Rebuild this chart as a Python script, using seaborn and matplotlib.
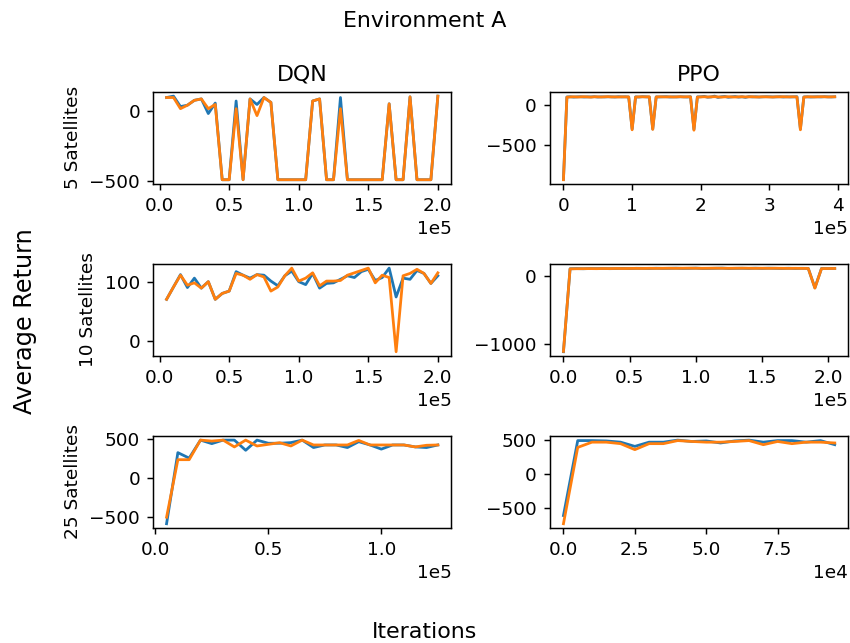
import matplotlib
matplotlib.use("Agg")
import matplotlib.pyplot as plt
import seaborn as sns

# ---------------- data ----------------
# DQN, 5 satellites (x = 5000 .. 200000, step 5000)
dqn5_x = [5000 * i for i in range(1, 41)]
dqn5_blue = [100, 110, 35, 45, 80, 90, -15, 60, -490, -490,
             75, -490, 90, 50, 100, 65, -490, -490, -490, -490,
             -490, 75, 90, -490, -490, 100, -490, -490, -490, -490,
             -490, -490, 55, -490, -490, 105, -490, -490, -490, 110]
dqn5_orange = [100, 100, 20, 45, 80, 90, 20, 50, -490, -490,
               20, -490, 90, -30, 100, 65, -490, -490, -490, -490,
               -490, 75, 90, -490, -490, 20, -490, -490, -490, -490,
               -490, -490, 55, -490, -490, 105, -490, -490, -490, 110]

# PPO, 5 satellites (x = 0 .. 395000, step 5000)
ppo5_x = [5000 * i for i in range(80)]
ppo5_blue = [-925, 98, 100, 96, 99, 100, 97, 99, 98, 101,
             97, 99, 98, 100, 99, 97, 101, 98, 100, 97,
             -300, 99, 97, 101, 100, 96, -300, 99, 98, 100,
             101, 97, 99, 98, 100, 99, 97, 101, -305, 99,
             100, 105, 95, 98, 108, 92, 100, 104, 94, 99,
             103, 96, 100, 93, 102, 98, 100, 97, 99, 101,
             100, 98, 99, 101, 97, 100, 98, 99, 101, -300,
             98, 100, 97, 99, 100, 98, 101, 99, 98, 100]
ppo5_orange = [-930, 95, 98, 100, 97, 99, 101, 98, 96, 100,
               99, 97, 100, 101, 98, 99, 97, 100, 98, 99,
               -310, 96, 99, 100, 98, 101, -305, 97, 100, 99,
               98, 100, 97, 99, 101, 98, 100, 99, -315, 96,
               98, 100, 97, 99, 101, 98, 96, 99, 100, 98,
               97, 99, 100, 98, 99, 101, 97, 98, 100, 99,
               98, 97, 100, 99, 101, 98, 99, 100, 97, -310,
               96, 99, 100, 98, 99, 101, 100, 98, 99, 100]

# DQN, 10 satellites (x = 5000 .. 200000)
dqn10_x = [5000 * i for i in range(1, 41)]
dqn10_blue = [70, 91, 112, 90, 106, 89, 100, 70, 80, 84,
              117, 111, 106, 112, 111, 101, 93, 110, 118, 100,
              95, 114, 89, 97, 98, 104, 110, 107, 117, 121,
              102, 107, 123, 74, 106, 104, 119, 114, 97, 110]
dqn10_orange = [70, 91, 111, 94, 98, 89, 100, 70, 80, 84,
                114, 111, 104, 112, 108, 84, 91, 110, 123, 101,
                106, 115, 93, 101, 101, 102, 111, 115, 119, 123,
                98, 111, 107, -19, 110, 114, 121, 114, 97, 115]

# PPO, 10 satellites (x = 0 .. 205000)
ppo10_x = [5000 * i for i in range(42)]
ppo10_blue = [-1110, 110, 112, 110, 113, 112, 114, 111, 113, 115,
              113, 116, 115, 114, 117, 115, 116, 118, 115, 116,
              119, 114, 115, 117, 119, 114, 116, 117, 115, 118,
              115, 118, 116, 114, 117, 114, 116, 115, -170, 114,
              112, 115]
ppo10_orange = [-1105, 108, 110, 111, 112, 111, 113, 112, 114, 113,
                114, 115, 114, 116, 115, 116, 117, 116, 117, 118,
                117, 116, 117, 118, 117, 116, 117, 118, 117, 116,
                117, 116, 117, 116, 115, 116, 115, 114, -175, 112,
                113, 114]

# DQN, 25 satellites (x = 5000 .. 125000)
dqn25_x = [5000 * i for i in range(1, 26)]
dqn25_blue = [-588, 320, 250, 480, 435, 480, 480, 350, 480, 440,
              440, 448, 480, 385, 418, 418, 385, 460, 418, 365,
              418, 418, 393, 385, 418]
dqn25_orange = [-505, 230, 230, 480, 468, 480, 393, 480, 405, 426,
                447, 405, 480, 418, 418, 418, 418, 476, 418, 418,
                418, 418, 393, 414, 418]

# PPO, 25 satellites (x = 0 .. 95000)
ppo25_x = [5000 * i for i in range(20)]
ppo25_blue = [-615, 485, 485, 480, 462, 400, 462, 462, 492, 472,
              480, 450, 480, 492, 462, 485, 485, 462, 485, 425]
ppo25_orange = [-735, 385, 462, 462, 440, 352, 440, 440, 485, 472,
                462, 462, 472, 485, 425, 472, 440, 462, 462, 450]

col_titles = ["DQN", "PPO"]
row_labels = ["5 Satellites", "10 Satellites", "25 Satellites"]

panels = [
    [(dqn5_x, dqn5_blue, dqn5_orange), (ppo5_x, ppo5_blue, ppo5_orange)],
    [(dqn10_x, dqn10_blue, dqn10_orange), (ppo10_x, ppo10_blue, ppo10_orange)],
    [(dqn25_x, dqn25_blue, dqn25_orange), (ppo25_x, ppo25_blue, ppo25_orange)],
]

# ---------------- plot ----------------
# the reference looks like a default 100-dpi figure scaled by ~1.33
DPI = 133
fig, axes = plt.subplots(3, 2, figsize=(850 / DPI, 643 / DPI), dpi=DPI)
fig.subplots_adjust(left=0.18, right=0.998, top=0.857, bottom=0.179,
                    hspace=0.87, wspace=0.33)

for r in range(3):
    for c in range(2):
        ax = axes[r, c]
        x, yb, yo = panels[r][c]
        sns.lineplot(x=x, y=yb, ax=ax, color="#1f77b4")
        sns.lineplot(x=x, y=yo, ax=ax, color="#ff7f0e")
        ax.ticklabel_format(axis="x", style="sci", scilimits=(0, 0))
        if r == 0:
            ax.set_title(col_titles[c])
        if c == 0:
            ax.set_ylabel(row_labels[r])

fig.suptitle("Environment A", y=0.983)
fig.supxlabel("Iterations", y=0.002)
fig.supylabel("Average Return", x=0.015, fontsize=13)

plt.savefig("out.png", dpi=DPI)
